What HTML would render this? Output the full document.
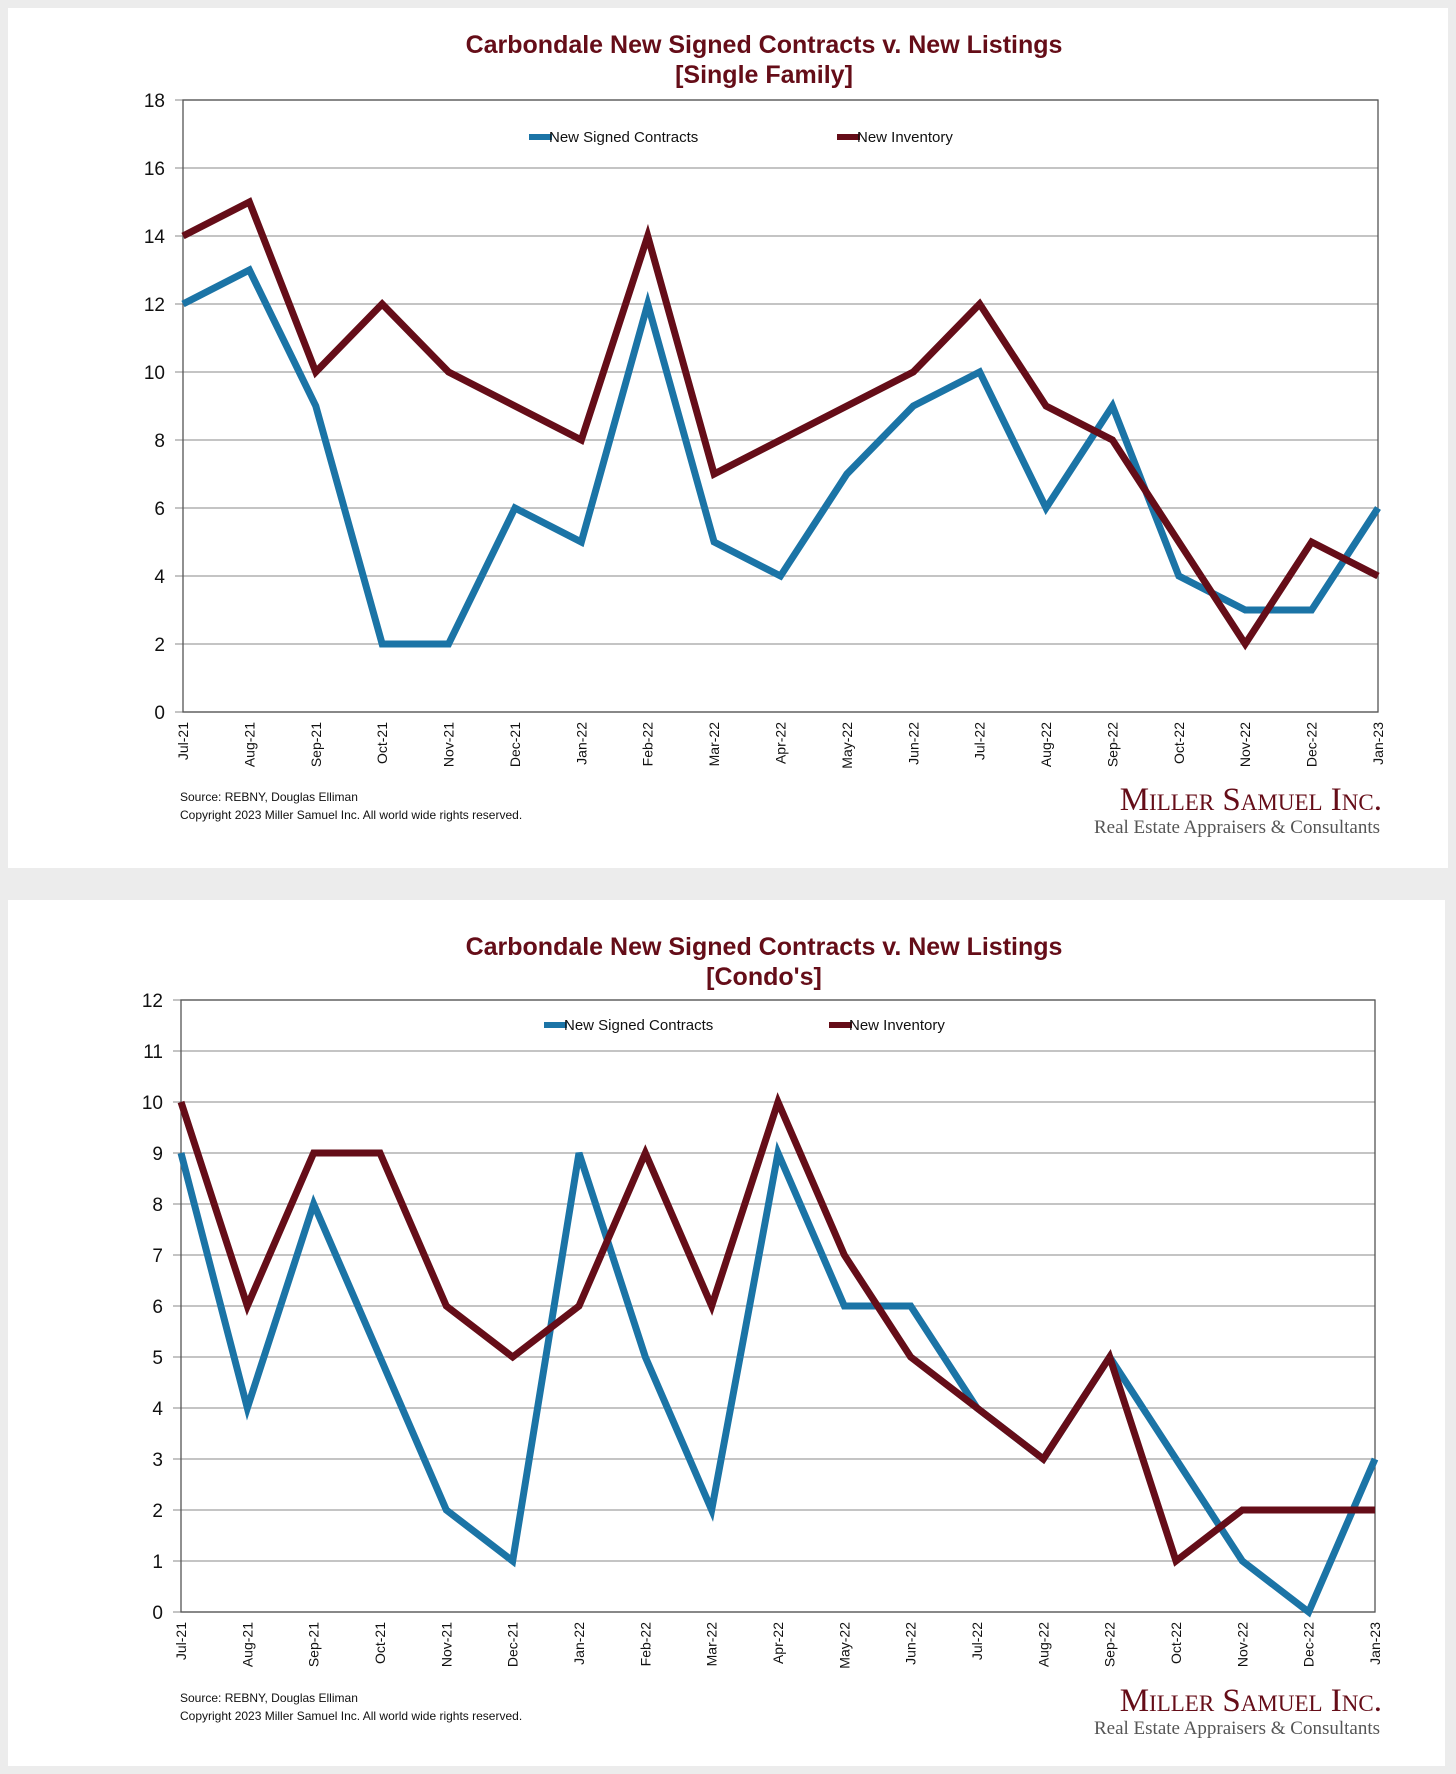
<!DOCTYPE html>
<html><head><meta charset="utf-8"><style>
body{margin:0;background:#ececec;width:1456px;height:1774px;overflow:hidden;font-family:"Liberation Sans",sans-serif}
svg{position:absolute;left:0;top:0}
</style></head><body>
<svg width="1456" height="1774" id="s">
<rect x="8" y="8" width="1440" height="860" fill="#fff"/>
<rect x="8" y="900" width="1437" height="866" fill="#fff"/>
</svg>
<script>
const months=["Jul-21","Aug-21","Sep-21","Oct-21","Nov-21","Dec-21","Jan-22","Feb-22","Mar-22","Apr-22","May-22","Jun-22","Jul-22","Aug-22","Sep-22","Oct-22","Nov-22","Dec-22","Jan-23"];
const sfContracts=[12,13,9,2,2,6,5,12,5,4,7,9,10,6,9,4,3,3,6];
const sfInventory=[14,15,10,12,10,9,8,14,7,8,9,10,12,9,8,5,2,5,4];
const sfTicks=[0,2,4,6,8,10,12,14,16,18];
const cdContracts=[9,4,8,5,2,1,9,5,2,9,6,6,4,3,5,3,1,0,3];
const cdInventory=[10,6,9,9,6,5,6,9,6,10,7,5,4,3,5,1,2,2,2];
const cdTicks=[0,1,2,3,4,5,6,7,8,9,10,11,12];
const NS="http://www.w3.org/2000/svg",svg=document.getElementById('s');
function mk(t,a,txt){const e=document.createElementNS(NS,t);for(const k in a)e.setAttribute(k,a[k]);if(txt!=null)e.textContent=txt;svg.appendChild(e);return e;}
const BLUE="#1b74a6",RED="#650d18";
function chart(c){
 const X=i=>c.l+(c.r-c.l)*i/(months.length-1);
 const Y=v=>c.b-(c.b-c.t)*v/c.max;
 let e;
 e=mk('text',{x:764,y:c.ty,'text-anchor':'middle','font-size':25,'font-weight':'bold',fill:RED},c.title);
 
 
 e=mk('text',{x:764,y:c.ty+30,'text-anchor':'middle','font-size':25,'font-weight':'bold',fill:RED},c.sub);
 
 
 c.ticks.forEach(v=>{
  e=mk('line',{x1:c.l-8,x2:c.r,y1:Y(v),y2:Y(v),stroke:'#a0a0a0','stroke-width':1.3});
  
  
  e=mk('text',{x:c.l-18,y:Y(v)+7,'text-anchor':'end','font-size':19,fill:'#111'},String(v));
  
  
 });
 e=mk('rect',{x:c.l,y:c.t,width:c.r-c.l,height:c.b-c.t,fill:'none',stroke:'#555','stroke-width':1.3});
 
 
 months.forEach((m,i)=>{
  e=mk('text',{transform:`translate(${X(i)+5},${c.b+10}) rotate(-90)`,'text-anchor':'end','font-size':14,fill:'#111'},m);
  
  
 });
 [[c.contracts,BLUE,'line-new-signed-contracts'],[c.inventory,RED,'line-new-inventory']].forEach(([d,col,n])=>{
  e=mk('polyline',{points:d.map((v,i)=>X(i)+','+Y(v)).join(' '),fill:'none',stroke:col,'stroke-width':7,'stroke-linejoin':'miter'});
  
  
 });
 e=mk('line',{x1:c.lg1,x2:c.lg1+23,y1:c.ly,y2:c.ly,stroke:BLUE,'stroke-width':6});
 
 
 e=mk('text',{x:c.lg1+20,y:c.ly+5,'font-size':15,fill:'#111'},'New Signed Contracts');
 
 
 e=mk('line',{x1:c.lg2,x2:c.lg2+23,y1:c.ly,y2:c.ly,stroke:RED,'stroke-width':6});
 
 
 e=mk('text',{x:c.lg2+20,y:c.ly+5,'font-size':15,fill:'#111'},'New Inventory');
 
 
 e=mk('text',{x:180,y:c.sy,'font-size':12,fill:'#111'},'Source: REBNY, Douglas Elliman');
 
 
 e=mk('text',{x:180,y:c.sy+18,'font-size':12,fill:'#111'},'Copyright 2023 Miller Samuel Inc.  All world wide rights reserved.');
 
 
 e=mk('text',{x:1382,y:c.sy+9,'text-anchor':'end','font-size':33,fill:RED,'font-family':'Liberation Serif,serif','font-variant':'small-caps'},'Miller Samuel Inc.');
 
 
 e=mk('text',{x:1380,y:c.sy+32,'text-anchor':'end','font-size':19,fill:'#555','font-family':'Liberation Serif,serif'},'Real Estate Appraisers & Consultants');
 
 
}
chart({l:183,r:1378,t:100,b:712,max:18,ticks:sfTicks,contracts:sfContracts,inventory:sfInventory,title:'Carbondale New Signed Contracts v. New Listings',sub:'[Single Family]',ty:53,ly:137,lg1:529,lg2:837,sy:801});
chart({l:181,r:1375,t:1000,b:1612,max:12,ticks:cdTicks,contracts:cdContracts,inventory:cdInventory,title:'Carbondale New Signed Contracts v. New Listings',sub:"[Condo's]",ty:955,ly:1025,lg1:544,lg2:829,sy:1702});
</script>
</body></html>
